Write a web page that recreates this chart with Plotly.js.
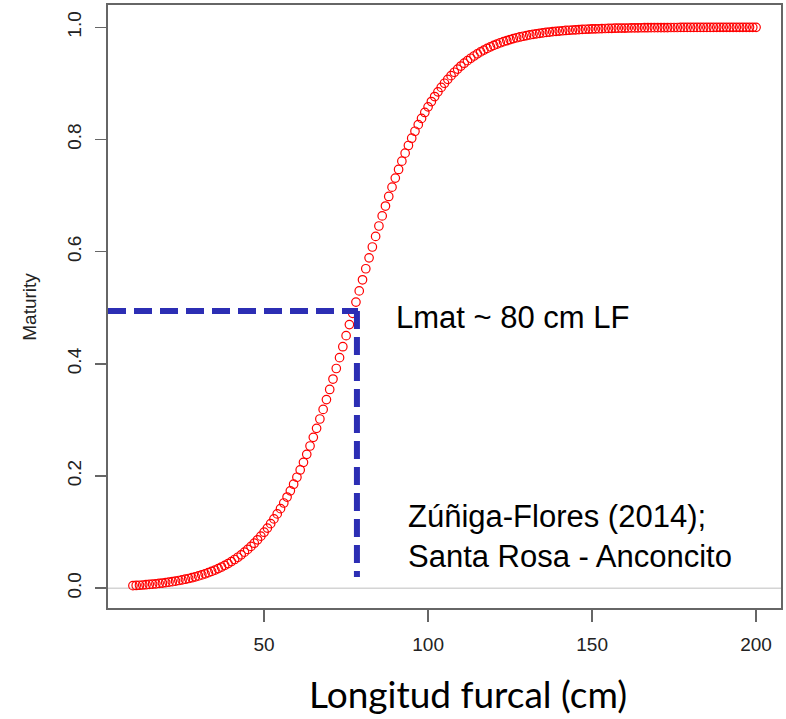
<!DOCTYPE html>
<html>
<head>
<meta charset="utf-8">
<script src="https://cdn.plot.ly/plotly-3.0.1.min.js"></script>
<style>
  html, body { margin: 0; padding: 0; background: #ffffff; }
  #chart { width: 786px; height: 719px; }
</style>
</head>
<body>
<div id="chart"></div>
<script>
// Fork length (cm), one point per centimetre
const lengths = [];
for (let l = 10; l <= 200; l++) lengths.push(l);

// Proportion mature at each fork length
const maturity = [
  0.0045, 0.0049, 0.0053, 0.0057, 0.0062, 0.0067, 0.0072, 0.0078, 0.0085, 0.0092,
  0.0100, 0.0108, 0.0117, 0.0126, 0.0137, 0.0148, 0.0160, 0.0173, 0.0187, 0.0202,
  0.0219, 0.0237, 0.0256, 0.0277, 0.0299, 0.0323, 0.0349, 0.0377, 0.0407, 0.0439,
  0.0474, 0.0512, 0.0552, 0.0595, 0.0642, 0.0691, 0.0745, 0.0802, 0.0863, 0.0928,
  0.0998, 0.1072, 0.1151, 0.1235, 0.1324, 0.1418, 0.1519, 0.1625, 0.1736, 0.1854,
  0.1978, 0.2108, 0.2244, 0.2387, 0.2535, 0.2689, 0.2850, 0.3016, 0.3187, 0.3363,
  0.3543, 0.3729, 0.3917, 0.4110, 0.4305, 0.4502, 0.4700, 0.4900, 0.5100, 0.5300,
  0.5498, 0.5695, 0.5890, 0.6083, 0.6271, 0.6457, 0.6637, 0.6813, 0.6984, 0.7150,
  0.7311, 0.7465, 0.7613, 0.7756, 0.7892, 0.8022, 0.8146, 0.8264, 0.8375, 0.8481,
  0.8582, 0.8676, 0.8765, 0.8849, 0.8928, 0.9002, 0.9072, 0.9137, 0.9198, 0.9255,
  0.9309, 0.9359, 0.9405, 0.9448, 0.9488, 0.9526, 0.9561, 0.9593, 0.9623, 0.9651,
  0.9677, 0.9701, 0.9724, 0.9744, 0.9763, 0.9781, 0.9798, 0.9813, 0.9827, 0.9840,
  0.9852, 0.9864, 0.9874, 0.9883, 0.9892, 0.9900, 0.9908, 0.9915, 0.9922, 0.9928,
  0.9933, 0.9938, 0.9943, 0.9947, 0.9951, 0.9955, 0.9958, 0.9962, 0.9965, 0.9967,
  0.9970, 0.9972, 0.9974, 0.9976, 0.9978, 0.9980, 0.9981, 0.9983, 0.9984, 0.9985,
  0.9986, 0.9987, 0.9988, 0.9989, 0.9990, 0.9991, 0.9992, 0.9992, 0.9993, 0.9993,
  0.9994, 0.9994, 0.9995, 0.9995, 0.9996, 0.9996, 0.9996, 0.9997, 0.9997, 0.9997,
  0.9997, 0.9997, 0.9998, 0.9998, 0.9998, 0.9998, 0.9998, 0.9998, 0.9999, 0.9999,
  0.9999, 0.9999, 0.9999, 0.9999, 0.9999, 0.9999, 0.9999, 0.9999, 0.9999, 0.9999,
  0.9999
];

// Length at 50 % maturity and the reference level
const lmat = 78.3;
const halfLevel = 0.494;
const guideBottom = 0.02;

const xTicks = [50, 100, 150, 200];
const yTicks = [0, 0.2, 0.4, 0.6, 0.8, 1.0];
const yTickText = ['0.0', '0.2', '0.4', '0.6', '0.8', '1.0'];

const trace = {
  x: lengths,
  y: maturity,
  type: 'scatter',
  mode: 'markers',
  marker: {
    symbol: 'circle-open',
    size: 8.5,
    color: '#ff0000',
    line: { width: 1.2, color: '#ff0000' }
  },
  hoverinfo: 'x+y'
};

const guideStyle = { color: '#2c2eb4', width: 6, dash: '18px,8px' };
const tickFont = { family: 'Liberation Sans, Arial, sans-serif', size: 19, color: '#222' };
const noteFont = { family: 'Liberation Sans, Arial, sans-serif', size: 31, color: '#000' };

const layout = {
  width: 786,
  height: 719,
  margin: { l: 108, r: 5, t: 5, b: 111 },
  paper_bgcolor: '#ffffff',
  plot_bgcolor: '#ffffff',
  showlegend: false,
  xaxis: {
    range: [2.4, 207.6],
    tickvals: xTicks,
    ticks: 'outside',
    ticklen: 12,
    tickwidth: 1.5,
    tickcolor: '#666',
    tickfont: tickFont,
    ticklabelstandoff: 6,
    showgrid: false,
    zeroline: false,
    showline: true,
    mirror: true,
    linecolor: '#666',
    linewidth: 2
  },
  yaxis: {
    range: [-0.0353, 1.0397],
    tickvals: yTicks,
    ticktext: yTickText,
    tickangle: -90,
    ticks: 'outside',
    ticklen: 11,
    tickwidth: 1.5,
    tickcolor: '#666',
    tickfont: tickFont,
    ticklabelstandoff: 6,
    showgrid: false,
    zeroline: false,
    showline: true,
    mirror: true,
    linecolor: '#666',
    linewidth: 2
  },
  shapes: [
    // baseline at zero maturity
    { type: 'line', xref: 'paper', yref: 'y', x0: 0, x1: 1, y0: 0, y1: 0,
      line: { color: '#d4d4d4', width: 1.5 }, layer: 'below' },
    // horizontal guide at 50 % maturity
    { type: 'line', xref: 'paper', yref: 'y', x0: 0, x1: 0.3715, y0: halfLevel, y1: halfLevel,
      line: guideStyle },
    // vertical guide at Lmat
    { type: 'line', xref: 'x', yref: 'y', x0: lmat, x1: lmat, y0: halfLevel, y1: guideBottom,
      line: guideStyle }
  ],
  annotations: [
    { text: 'Lmat ~ 80 cm LF', xref: 'paper', yref: 'paper', x: 0.425, y: 0.481,
      xanchor: 'left', yanchor: 'middle', showarrow: false, font: noteFont },
    { text: 'Zúñiga-Flores (2014);<br>Santa Rosa - Anconcito', xref: 'paper', yref: 'paper',
      x: 0.443, y: 0.118, xanchor: 'left', yanchor: 'middle', align: 'left',
      showarrow: false, font: noteFont },
    { text: 'Maturity', xref: 'paper', yref: 'paper', x: -0.117, y: 0.5, textangle: -90,
      xanchor: 'center', yanchor: 'middle', showarrow: false,
      font: { family: 'Liberation Sans, Arial, sans-serif', size: 19, color: '#222' } },
    { text: 'Longitud furcal (cm)', xref: 'paper', yref: 'paper', x: 0.535, y: -0.142,
      xanchor: 'center', yanchor: 'middle', showarrow: false,
      font: { family: 'Lato, Open Sans, sans-serif', size: 37, color: '#000' } }
  ]
};

Plotly.newPlot('chart', [trace], layout, { displayModeBar: false, staticPlot: true });
</script>
</body>
</html>
